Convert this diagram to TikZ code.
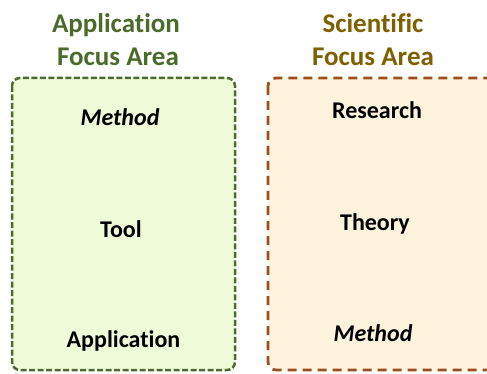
\documentclass[tikz,border=0pt]{standalone}
\usepackage{fontspec}
\setmainfont{Carlito}[Ligatures={NoCommon,NoContextual}]
\definecolor{titlegreen}{HTML}{4A6B2A}
\definecolor{bordergreen}{HTML}{4E6B2E}
\definecolor{fillgreen}{HTML}{EFFAD9}
\definecolor{titlebrown}{HTML}{7F6000}
\definecolor{borderbrown}{HTML}{9C4E1C}
\definecolor{fillbrown}{HTML}{FDF3DD}
\begin{document}
\begin{tikzpicture}[x=1pt,y=-1pt,
  titletext/.style={font=\fontsize{27}{30}\selectfont\bfseries, anchor=base},
  bodytext/.style={font=\fontsize{24}{28}\selectfont\bfseries, anchor=base, text=black},
  greenbox/.style={draw=bordergreen, fill=fillgreen, line width=2.5pt, dash pattern=on 6pt off 2.5pt, rounded corners=8pt},
  brownbox/.style={draw=borderbrown, fill=fillbrown, line width=2.8pt, dash pattern=on 9pt off 6pt, rounded corners=8pt}]
\fill[white] (0,0) rectangle (487,374);
\useasboundingbox (0,0) rectangle (487,374);
\draw[greenbox] (12,78) rectangle (235,370);
\draw[brownbox] (268,78) rectangle (540,370);
\node[titletext, text=titlegreen] (t1a) at (116,33) {Application};
\node[titletext, text=titlegreen] (t1b) at (118,66) {Focus Area};
\node[titletext, text=titlebrown] (t2a) at (373,33) {Scientific};
\node[titletext, text=titlebrown] (t2b) at (373,66) {Focus Area};
\node[bodytext] (m1) at (120,126) {\itshape Method};
\node[bodytext] (tool) at (121,237) {Tool};
\node[bodytext] (app) at (123.5,347) {Application};
\node[bodytext] (res) at (377,119) {Research};
\node[bodytext] (theo) at (375,230) {Theory};
\node[bodytext] (m2) at (373,341) {\itshape Method};
\end{tikzpicture}
\end{document}
